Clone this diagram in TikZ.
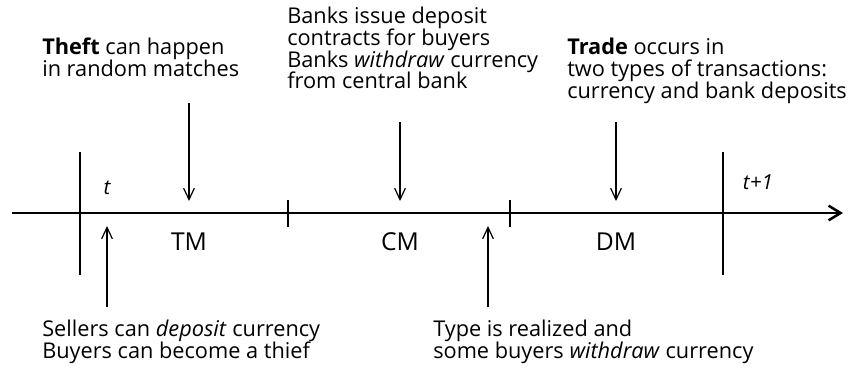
\documentclass[tikz,border=0pt]{standalone}
\usepackage{fontspec}
\setmainfont{Open Sans}
\usetikzlibrary{arrows.meta}
\begin{document}
\begin{tikzpicture}[x=0.75pt,y=-0.75pt,
  heavyline/.style={line width=1.9pt},
  tickline/.style={line width=1.5pt},
  evarrow/.style={line width=0.9pt,-{Straight Barb[length=8.5pt,width=8pt]}},
  axisarrow/.style={line width=1.9pt,-{Straight Barb[length=9pt,width=11pt]}},
  txt/.style={inner sep=0pt,align=left,anchor=base west,font=\fontsize{16.3pt}{16.4pt}\selectfont},
  phase/.style={inner sep=0pt,anchor=base,font=\fontsize{18.5pt}{22pt}\selectfont},
  timelbl/.style={inner sep=0pt,anchor=base,font=\fontsize{15.5pt}{17pt}\selectfont\itshape}]
\useasboundingbox (0,0) rectangle (851,371);
% axis
\coordinate (axs) at (12,213);
\coordinate (axe) at (843,213);
\draw[axisarrow] (axs) -- (axe);
% long bars
\coordinate (b1t) at (80,152); \coordinate (b1b) at (80,275);
\coordinate (b2t) at (723,152); \coordinate (b2b) at (723,275);
\draw[heavyline] (b1t) -- (b1b);
\draw[heavyline] (b2t) -- (b2b);
% ticks
\coordinate (k1t) at (288,200); \coordinate (k1b) at (288,227);
\coordinate (k2t) at (510,200); \coordinate (k2b) at (510,227);
\draw[tickline] (k1t) -- (k1b);
\draw[tickline] (k2t) -- (k2b);
% labels on axis
\node[timelbl] (t0) at (107,194) {t};
\node[timelbl] (t1) at (758,189) {t+1};
\node[phase] (tm) at (189,250) {TM};
\node[phase] (cm) at (400,250) {CM};
\node[phase] (dm) at (616,250) {DM};
% text blocks (anchored at the baseline of the last line)
\node[txt] (theft) at (42,76) {\textbf{Theft} can happen\\in random matches};
\node[txt] (banks) at (287,89) {Banks issue deposit\\contracts for buyers\\Banks \textit{withdraw} currency\\from central bank};
\node[txt] (trade) at (567,98) {\textbf{Trade} occurs in\\two types of transactions:\\currency and bank deposits};
\node[txt] (sellers) at (42,358) {Sellers can \textit{deposit} currency\\Buyers can become a thief};
\node[txt] (type) at (433,358) {Type is realized and\\some buyers \textit{withdraw} currency};
% arrows
\coordinate (d1s) at (189,103); \coordinate (d1e) at (189,201);
\coordinate (d2s) at (400,122); \coordinate (d2e) at (400,201);
\coordinate (d3s) at (616,122); \coordinate (d3e) at (616,201);
\coordinate (u1s) at (107,307); \coordinate (u1e) at (107,226);
\coordinate (u2s) at (488,307); \coordinate (u2e) at (488,226);
\draw[evarrow] (d1s) -- (d1e);
\draw[evarrow] (d2s) -- (d2e);
\draw[evarrow] (d3s) -- (d3e);
\draw[evarrow] (u1s) -- (u1e);
\draw[evarrow] (u2s) -- (u2e);
\end{tikzpicture}
\end{document}
